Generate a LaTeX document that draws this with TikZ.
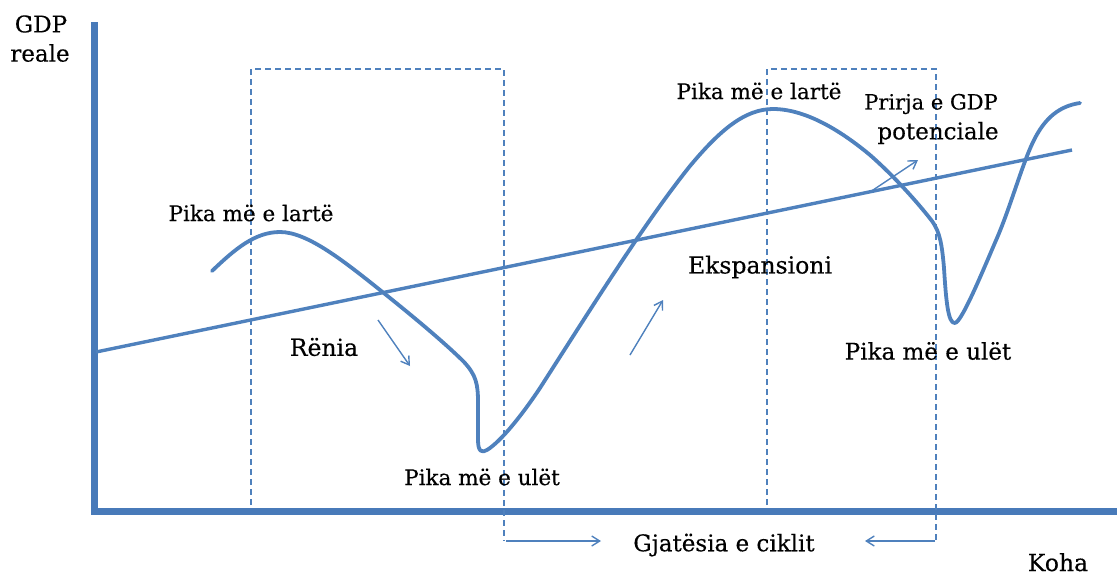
\documentclass[tikz,border=0pt]{standalone}
\usepackage{fontspec}
\setmainfont[FakeBold=0.35]{DejaVu Serif}
\usetikzlibrary{arrows.meta}
\definecolor{cblue}{RGB}{79,129,189}
\definecolor{ablue}{RGB}{72,122,185}
\begin{document}
\begin{tikzpicture}[x=1pt,y=-1pt,
  lbl/.style={font=\fontsize{#1}{#1}\selectfont, inner sep=0pt, anchor=center},
  lbl/.default=22,
  axisline/.style={ablue, line width=7pt},
  dashline/.style={cblue, line width=1.4pt, dash pattern=on 6pt off 4pt},
  curve/.style={cblue, line width=3.8pt, line cap=round, line join=round},
  trend/.style={cblue, line width=3.4pt},
  thinarrow/.style={cblue, line width=1.4pt, -{Straight Barb[length=8pt,width=10pt]}},
]
\useasboundingbox (0,0) rectangle (1117,576);
% axes
\coordinate (O) at (94,511);
\coordinate (ytop) at (94,22);
\coordinate (xend) at (1117,511);
\draw[axisline] (ytop) -- (O) -- (xend);
% dashed boxes
\coordinate (b1a) at (251,505);
\coordinate (b1b) at (251,69);
\coordinate (b1c) at (504,69);
\coordinate (b1d) at (504,541);
\coordinate (b2a) at (767,505);
\coordinate (b2b) at (767,69);
\coordinate (b2c) at (936,69);
\coordinate (b2d) at (936,541);
\draw[dashline] (b1a) -- (b1b) -- (b1c) -- (b1d);
\draw[dashline] (b2a) -- (b2b) -- (b2c) -- (b2d);
% trend line
\coordinate (t0) at (96,352);
\coordinate (t1) at (1072,150);
\draw[trend] (t0) -- (t1);
% business cycle curve
\draw[curve] (212,271)
  .. controls (235,249) and (255,232) .. (280,232)
  .. controls (308,232) and (345,262) .. (385,294)
  .. controls (420,322) and (448,346) .. (464,362)
  .. controls (476,375) and (478,384) .. (478,402)
  -- (478,440)
  .. controls (478,452) and (482,453) .. (487,450)
  .. controls (500,442) and (520,418) .. (540,388)
  .. controls (590,310) and (645,222) .. (690,166)
  .. controls (720,130) and (745,109) .. (773,109)
  .. controls (805,109) and (840,130) .. (870,155)
  .. controls (895,177) and (918,203) .. (932,221)
  .. controls (940,232) and (942,245) .. (944,268)
  .. controls (946,300) and (948,324) .. (955,323)
  .. controls (962,322) and (984,268) .. (997,238)
  .. controls (1010,208) and (1022,165) .. (1033,142)
  .. controls (1045,117) and (1060,106) .. (1080,103);
% labels
\node[lbl=23] (gdp) at (41,24) {GDP};
\node[lbl=23] (reale) at (40,53) {reale};
\node[lbl=23.5, anchor=base] (koha) at (1058,571) {Koha};
\node[lbl=21.5] (peak1) at (251,213) {Pika më e lartë};
\node[lbl=21.5] (peak2) at (759,91) {Pika më e lartë};
\node[lbl=21.5] (trough1) at (482,477) {Pika më e ulët};
\node[lbl=23] (trough2) at (928,351) {Pika më e ulët};
\node[lbl=23.5] (renia) at (324,347) {Rënia};
\node[lbl=23.5] (exp) at (760,267) {Ekspansioni};
\node[lbl=21] (prirja) at (931,104) {Prirja e GDP};
\node[lbl=23] (pot) at (938,133) {potenciale};
\node[lbl=23] (gj) at (724,545) {Gjatësia e ciklit};
% arrows
\coordinate (r0) at (378,320);
\coordinate (r1) at (410,366);
\draw[thinarrow] (r0) -- (r1);
\coordinate (e0) at (630,355);
\coordinate (e1) at (663,300);
\draw[thinarrow] (e0) -- (e1);
\coordinate (p0) at (870,192);
\coordinate (p1) at (918,160);
\draw[thinarrow] (p0) -- (p1);
\coordinate (g0) at (506,541);
\coordinate (g1) at (601,541);
\draw[thinarrow] (g0) -- (g1);
\coordinate (h0) at (935,541);
\coordinate (h1) at (865,541);
\draw[thinarrow] (h0) -- (h1);
\end{tikzpicture}
\end{document}
